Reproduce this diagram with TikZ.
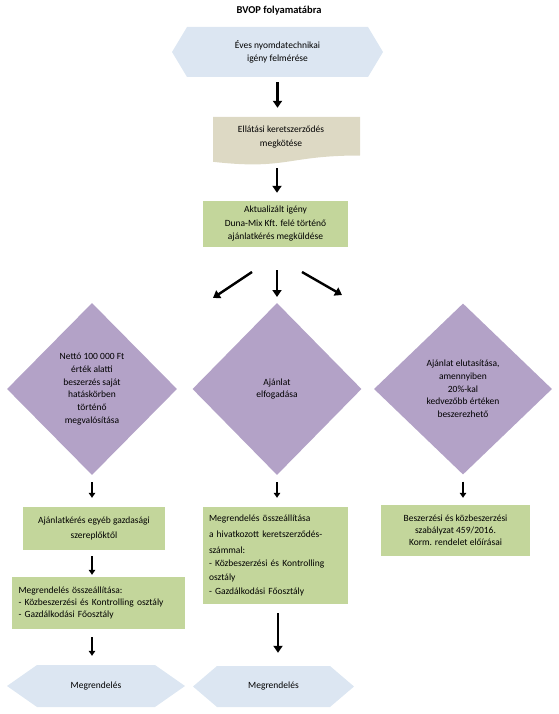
\documentclass[tikz,border=0pt]{standalone}
\usepackage{fontspec}
\setmainfont{Carlito}
\usetikzlibrary{shapes.geometric,arrows.meta,calc}
\definecolor{hexblue}{HTML}{DCE6F2}
\definecolor{boxgreen}{HTML}{C3D69B}
\definecolor{diapurple}{HTML}{B3A2C7}
\definecolor{doctan}{HTML}{DDD9C4}
\tikzset{
  txt/.style={font=\fontsize{9.5}{13.5}\selectfont, align=center, inner sep=0pt},
  gbox/.style={txt, fill=boxgreen},
  hexbox/.style={txt, path picture={\fill[hexblue]
      ([xshift=#1]path picture bounding box.north west) --
      ([xshift=-#1]path picture bounding box.north east) --
      (path picture bounding box.east) --
      ([xshift=-#1]path picture bounding box.south east) --
      ([xshift=#1]path picture bounding box.south west) --
      (path picture bounding box.west) -- cycle;}},
  dia/.style={txt, diamond, fill=diapurple, aspect=1, font=\fontsize{9.5}{12.7}\selectfont},
  bigarrow/.style={-{Triangle[length=7pt,width=9pt]}, line width=2.4pt},
  smallarrow/.style={-{Triangle[length=5pt,width=6.5pt]}, line width=1.5pt},
}
\begin{document}
\begin{tikzpicture}[x=1pt,y=-1pt]
\useasboundingbox (0,0) rectangle (558,714);

% title
\node[font=\bfseries\fontsize{10.5}{12}\selectfont, inner sep=0pt] (title) at (279,11) {BVOP folyamatábra};

% top hexagon
\node[hexbox=15pt, minimum width=211pt, minimum height=50pt] (h1) at (277.5,52) {Éves nyomdatechnikai\\igény felmérése};

% document shape
\node[minimum width=147pt, minimum height=45pt, inner sep=0pt] (tan) at (286.5,139.5) {};
\fill[doctan] (213,117) -- (360,117) -- (360,155.5)
   .. controls (286.5,155.5) and (286.5,170.2) .. (213,161.8) -- cycle;
\node[txt] (tantext) at (281,137) {Ellátási keretszerződés\\megkötése};

% green box 3
\node[gbox, minimum width=145pt, minimum height=46pt] (g3) at (275.5,224) {Aktualizált igény\\Duna-Mix Kft. felé történő\\ajánlatkérés megküldése};

% diamonds
\node[dia, minimum width=170pt, minimum height=172pt] (dL) at (92,389) {Nettó 100 000 Ft\\érték alatti\\beszerzés saját\\hatáskörben\\történő\\megvalósítása};
\node[dia, minimum width=169pt, minimum height=172pt] (dM) at (277,389) {Ajánlat\\elfogadása};
\node[dia, minimum width=178pt, minimum height=171pt] (dR) at (463,389) {Ajánlat elutasítása,\\amennyiben\\20\%-kal\\kedvezőbb értéken\\beszerezhető};

% left column
\node[gbox, minimum width=142pt, minimum height=43pt, font=\fontsize{9.5}{15}\selectfont] (gL1) at (94,528.5) {Ajánlatkérés egyéb gazdasági\\szereplőktől};
\node[gbox, align=left, text width=160pt, inner xsep=6.5pt, minimum height=52pt, font=\fontsize{9.5}{12}\selectfont] (gL2) at (98.5,603) {Megrendelés összeállítása:\\- Közbeszerzési és Kontrolling osztály\\- Gazdálkodási Főosztály};
\node[hexbox=30pt, minimum width=178pt, minimum height=42pt] (hL) at (96,686) {Megrendelés};

% middle column
\node[gbox, align=left, text width=133pt, inner xsep=6pt, minimum height=97pt] (gM) at (275.5,555.5) {Megrendelés összeállítása\\[2.5pt]a hivatkozott keretszerződés-\\[2.5pt]számmal:\\[-0.5pt]- Közbeszerzési és Kontrolling\\[0.5pt]osztály\\- Gazdálkodási Főosztály};
\node[hexbox=24pt, minimum width=161pt, minimum height=41pt] (hM) at (273.5,686.5) {Megrendelés};

% right column
\node[gbox, minimum width=149pt, minimum height=51pt, font=\fontsize{9.5}{12}\selectfont] (gR) at (455.5,530.5) {Beszerzési és közbeszerzési\\szabályzat 459/2016.\\Korm. rendelet előírásai};

% free ends of the three branching arrows
\coordinate (bLs) at (252,272);
\coordinate (bLe) at (213,298);
\coordinate (bMs) at (277,270);
\coordinate (bMe) at (277,297);
\coordinate (bRs) at (302,272);
\coordinate (bRe) at (342,295);

% connectors
\draw[bigarrow] ([yshift=-5pt]h1.south) -- ([yshift=9pt]h1.south |- tan.north);
\draw[bigarrow] ([xshift=1.5pt,yshift=-6pt]g3.north |- tan.south) -- ([xshift=1.5pt,yshift=8pt]g3.north);
\draw[bigarrow] (bLs) -- (bLe);
\draw[bigarrow] (bMs) -- (bMe);
\draw[bigarrow] (bRs) -- (bRe);

\draw[smallarrow] ([yshift=-7pt]dL.south) -- ([yshift=9pt]dL.south |- gL1.north);
\draw[smallarrow] ([yshift=-7pt]dM.south) -- ([yshift=9pt]dM.south |- gM.north);
\draw[smallarrow] ([yshift=-7pt]dR.south) -- ([yshift=7pt]dR.south |- gR.north);

\draw[smallarrow] ([xshift=-2pt,yshift=-6pt]gL1.south) -- ([xshift=-2pt,yshift=2pt]gL1.south |- gL2.north);
\draw[smallarrow] ([xshift=-6.5pt,yshift=-8pt]gL2.south) -- ([xshift=-6.5pt,yshift=9pt]gL2.south |- hL.north);
\draw[bigarrow] ([xshift=2.5pt,yshift=-9pt]gM.south) -- ([xshift=2.5pt,yshift=13pt]gM.south |- hM.north);
\end{tikzpicture}
\end{document}
